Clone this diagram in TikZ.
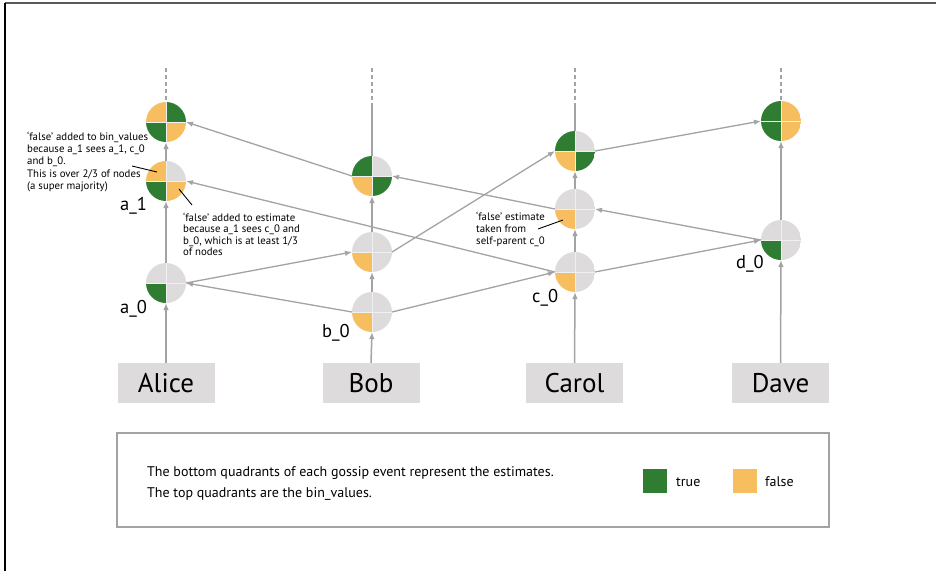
\documentclass[tikz,border=0pt]{standalone}
\usepackage{fontspec}
\setmainfont{PT Sans}
\usetikzlibrary{arrows.meta,calc}
\definecolor{qgreen}{HTML}{2E7D32}
\definecolor{qorange}{HTML}{F6BE5E}
\definecolor{qgray}{HTML}{DDDBDB}
\definecolor{lgray}{HTML}{A3A3A3}
\tikzset{
  evt/.style={circle,minimum size=40pt,inner sep=0pt,outer sep=0pt},
  arr/.style={draw=lgray,line width=1.3pt,-{Latex[length=7pt,width=5.5pt]}},
  vline/.style={draw=lgray,line width=1.5pt,-{Latex[length=7pt,width=5.5pt]}},
  dline/.style={draw=lgray,line width=1.3pt,dash pattern=on 4pt off 3pt},
  namebox/.style={fill=qgray,minimum width=97pt,minimum height=40pt,inner sep=0pt,font=\fontsize{27}{30}\selectfont},
  note/.style={align=left,inner sep=0pt,anchor=north west},
  evlabel/.style={anchor=base west,inner sep=0pt,font=\fontsize{18.5}{20}\selectfont},
  pointer/.style={draw=black,line width=0.9pt}
}
\newcommand\gevent[7]{%
  \node[evt] (#1) at (#2,#3) {};
  \begin{scope}
    \clip (#2,#3) circle[radius=20pt];
    \fill[#4] (#2,#3) rectangle ++(-20,-20);
    \fill[#5] (#2,#3) rectangle ++(20,-20);
    \fill[#6] (#2,#3) rectangle ++(-20,20);
    \fill[#7] (#2,#3) rectangle ++(20,20);
    \draw[white!88!gray,line width=1pt] (#2-20,#3) -- (#2+20,#3) (#2,#3-20) -- (#2,#3+20);
  \end{scope}
}
\begin{document}
\begin{tikzpicture}[x=1pt,y=-1pt]
\useasboundingbox (0,0) rectangle (936,571);
\fill[white] (0,0) rectangle (936,571);
% frame
\draw[gray!70!black,line width=2pt] (5,3) -- (936,3);
\draw[black,line width=1.5pt] (5,3) -- (5,571);

% name boxes
\node[namebox] (alice) at (166,383) {Alice};
\node[namebox] (bob) at (371,383) {Bob};
\node[namebox] (carol) at (574.5,383) {Carol};
\node[namebox] (dave) at (780.5,383) {Dave};

% events
\gevent{a0}{166}{283}{qgray}{qgray}{qgreen}{qgray}
\gevent{a1}{166}{181}{qorange}{qgray}{qgreen}{qorange}
\gevent{a2}{166}{122}{qorange}{qgreen}{qgreen}{qorange}
\gevent{b0}{372}{312}{qgray}{qgray}{qorange}{qgray}
\gevent{b1}{372}{252}{qgray}{qgray}{qorange}{qgray}
\gevent{b2}{372}{176}{qgreen}{qgray}{qorange}{qgreen}
\gevent{c0}{575}{272}{qgray}{qgray}{qorange}{qgray}
\gevent{c1}{575}{209}{qgray}{qgray}{qorange}{qgray}
\gevent{c2}{575}{151}{qgreen}{qgray}{qorange}{qgreen}
\gevent{d0}{781}{240}{qgray}{qgray}{qgreen}{qgray}
\gevent{d1}{781}{121}{qgreen}{qorange}{qgreen}{qorange}

% top dashed continuations
\coordinate (at) at (166,68);
\coordinate (bt) at (372,68);
\coordinate (bm) at (372,104);
\coordinate (ct) at (575,68);
\coordinate (cm) at (575,104);
\coordinate (dt) at (781,68);
\draw[dline] (at) -- (a2.north);
\draw[dline] (bt) -- (bm);
\draw[draw=lgray,line width=1.3pt] (bm) -- (b2.north);
\draw[dline] (ct) -- (cm);
\draw[draw=lgray,line width=1.3pt] (cm) -- (c2.north);
\draw[dline] (dt) -- (d1.north);

% vertical (self-parent) arrows
\draw[vline] (alice.north) -- (a0.south);
\draw[vline] (a0.north) -- (a1.south);
\draw[vline] (a1.north) -- (a2.south);
\draw[vline] (bob.north) -- (b0.south);
\draw[vline] (b0.north) -- (b1.south);
\draw[vline] (b1.north) -- (b2.south);
\draw[vline] (carol.north) -- (c0.south);
\draw[vline] (c0.north) -- (c1.south);
\draw[vline] (c1.north) -- (c2.south);
\draw[vline] (dave.north) -- (d0.south);
\draw[vline] (d0.north) -- (d1.south);

% other-parent arrows
\draw[arr] (b0.west) -- (a0.east);
\draw[arr] (a0.east) -- (b1.west);
\draw[arr] (b0.east) -- (c0.west);
\draw[arr] (c0.west) -- (a1.east);
\draw[arr] (b1.east) -- (c2.west);
\draw[arr] (c1.west) -- (b2.east);
\draw[arr] (b2.west) -- (a2.east);
\draw[arr] (c0.east) -- (d0.west);
\draw[arr] (d0.west) -- (c1.east);
\draw[arr] (c2.east) -- (d1.west);

% event labels
\node[evlabel] (la1) at (120,210) {a\_1};
\node[evlabel] (la0) at (120,313) {a\_0};
\node[evlabel] (lb0) at (322,337) {b\_0};
\node[evlabel] (lc0) at (532,302) {c\_0};
\node[evlabel] (ld0) at (736,268) {d\_0};

% annotations
\node[note,font=\fontsize{10.8}{12.3}\selectfont] (n1) at (27,131.5)
  {‘false’ added to bin\_values\\because a\_1 sees a\_1, c\_0\\and b\_0.\\This is over 2/3 of nodes\\(a super majority)};
\coordinate (p1a) at (132,166);
\coordinate (p1b) at (157,172);
\draw[pointer] (p1a) -- (p1b);

\node[note,font=\fontsize{10.8}{11.6}\selectfont] (n2) at (183,212.5)
  {‘false’ added to estimate\\because a\_1 sees c\_0 and\\b\_0, which is at least 1/3\\of nodes};
\coordinate (p2a) at (179,189);
\coordinate (p2b) at (192,205);
\draw[pointer] (p2a) -- (p2b);

\node[note,font=\fontsize{10.8}{12}\selectfont] (n3) at (476,211.5)
  {‘false’ estimate\\taken from\\self-parent c\_0};
\coordinate (p3a) at (538,229);
\coordinate (p3b) at (563,220);
\draw[pointer] (p3a) -- (p3b);

% legend
\node[draw=lgray,line width=1.2pt,minimum width=712pt,minimum height=94pt,inner sep=0pt] (legend) at (473,480) {};
\node[anchor=base west,inner sep=0pt,font=\fontsize{14}{16}\selectfont] (lt1) at (147,476) {The bottom quadrants of each gossip event represent the estimates.};
\node[anchor=base west,inner sep=0pt,font=\fontsize{14}{16}\selectfont] (lt2) at (147,497) {The top quadrants are the bin\_values.};
\node[fill=qgreen,minimum size=24pt,inner sep=0pt] (sqg) at (655,481) {};
\node[anchor=base west,inner sep=0pt,font=\fontsize{14}{16}\selectfont] (ltrue) at (676,486) {true};
\node[fill=qorange,minimum size=24pt,inner sep=0pt] (sqo) at (745,481) {};
\node[anchor=base west,inner sep=0pt,font=\fontsize{14}{16}\selectfont] (lfalse) at (765,486) {false};
\end{tikzpicture}
\end{document}
